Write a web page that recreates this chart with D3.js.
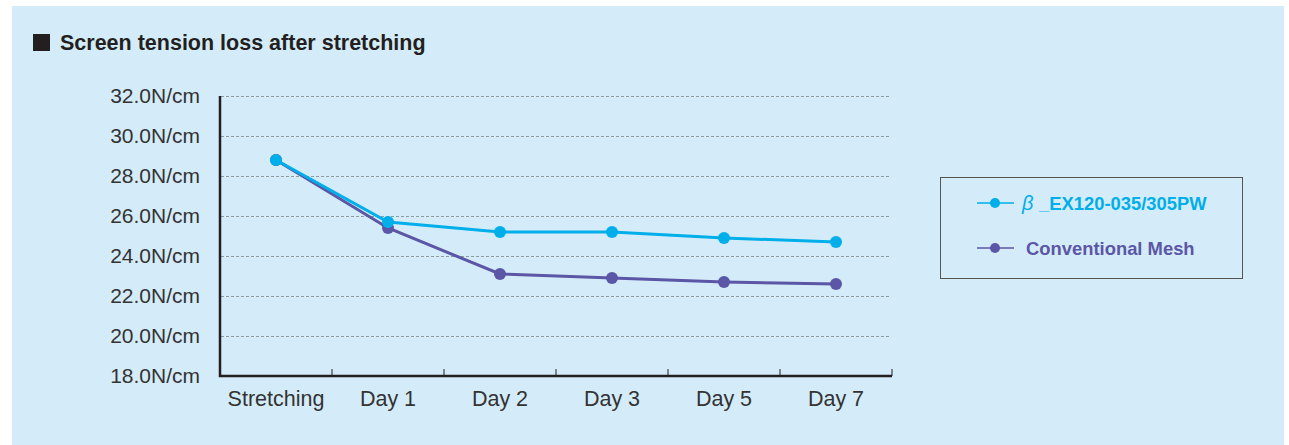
<!DOCTYPE html>
<html>
<head>
<meta charset="utf-8">
<script src="https://cdn.jsdelivr.net/npm/d3@7"></script>
<style>
  html, body { margin: 0; padding: 0; background: #ffffff; }
  svg { display: block; font-family: "Liberation Sans", Arial, sans-serif; }
</style>
</head>
<body>
<div id="chart"></div>
<script>
// Data
const categories = ["Stretching", "Day 1", "Day 2", "Day 3", "Day 5", "Day 7"];
const betaValues = [28.8, 25.7, 25.2, 25.2, 24.9, 24.7];
const conventionalValues = [28.8, 25.4, 23.1, 22.9, 22.7, 22.6];
const yTicks = [18, 20, 22, 24, 26, 28, 30, 32];
const seriesNames = ["_EX120-035/305PW", "Conventional Mesh"];

const width = 1289;
const height = 445;

const svg = d3.select("#chart")
    .append("svg")
    .attr("width", width)
    .attr("height", height);

// light blue panel
svg.append("rect")
    .attr("x", 12)
    .attr("y", 6)
    .attr("width", 1272)
    .attr("height", 439)
    .attr("fill", "#d4ecf9");

// title
svg.append("rect")
    .attr("x", 33)
    .attr("y", 34)
    .attr("width", 17)
    .attr("height", 17)
    .attr("fill", "#231f20");

svg.append("text")
    .attr("x", 60)
    .attr("y", 50)
    .attr("fill", "#231f20")
    .style("font-size", "21.5px")
    .style("font-weight", "bold")
    .text("Screen tension loss after stretching");

/*********************************************/
/*              scales                        */
/*********************************************/
const x = d3.scaleBand()
    .domain(categories)
    .range([220, 892]);

const y = d3.scaleLinear()
    .domain([18, 32])
    .range([376, 96]);

const cx = d => x(d) + x.bandwidth() / 2;

// grid lines
svg.append("g")
    .selectAll("line")
    .data(yTicks.filter(t => t > 18))
    .join("line")
        .attr("x1", 221)
        .attr("x2", 890)
        .attr("y1", d => y(d) + 0.5)
        .attr("y2", d => y(d) + 0.5)
        .attr("stroke", "#8c9aa2")
        .attr("stroke-width", 1)
        .attr("stroke-dasharray", "3,2");

// y tick labels
svg.append("g")
    .selectAll("text")
    .data(yTicks)
    .join("text")
        .attr("x", 200)
        .attr("y", d => y(d))
        .attr("dy", "0.35em")
        .attr("text-anchor", "end")
        .attr("fill", "#333333")
        .style("font-size", "21px")
        .text(d => d3.format(".1f")(d) + "N/cm");

// x axis with inward ticks
const xAxis = svg.append("g")
    .attr("transform", `translate(0, ${y(18)})`);

xAxis.selectAll("line.tick")
    .data(categories)
    .join("line")
        .attr("class", "tick")
        .attr("x1", d => x(d) + x.bandwidth())
        .attr("x2", d => x(d) + x.bandwidth())
        .attr("y1", 0)
        .attr("y2", -7)
        .attr("stroke", "#231f20")
        .attr("stroke-width", 1);

xAxis.selectAll("text")
    .data(categories)
    .join("text")
        .attr("x", d => cx(d))
        .attr("y", 30)
        .attr("text-anchor", "middle")
        .attr("fill", "#333333")
        .style("font-size", "21.5px")
        .text(d => d);

// axis lines
svg.append("path")
    .attr("d", `M${x.range()[0]},${y(32)}V${y(18)}H${x.range()[1]}`)
    .attr("fill", "none")
    .attr("stroke", "#231f20")
    .attr("stroke-width", 2.5);

/*********************************************/
/*              series                        */
/*********************************************/
const series = [
    { name: seriesNames[1], values: conventionalValues, color: "#5b56a5" },
    { name: seriesNames[0], values: betaValues, color: "#00aeea" }
];

const line = d3.line()
    .x((d, i) => cx(categories[i]))
    .y(d => y(d));

series.forEach(s => {
    const g = svg.append("g");
    g.append("path")
        .attr("d", line(s.values))
        .attr("fill", "none")
        .attr("stroke", s.color)
        .attr("stroke-width", 3);
    g.selectAll("circle")
        .data(s.values)
        .join("circle")
            .attr("cx", (d, i) => cx(categories[i]))
            .attr("cy", d => y(d))
            .attr("r", 6)
            .attr("fill", s.color);
});

/*********************************************/
/*              legend                        */
/*********************************************/
const legend = svg.append("g");

legend.append("rect")
    .attr("x", 940.5)
    .attr("y", 177.5)
    .attr("width", 302)
    .attr("height", 101)
    .attr("fill", "none")
    .attr("stroke", "#555555")
    .attr("stroke-width", 1);

const legendItems = [
    { y: 203, color: "#00aeea", beta: true, name: seriesNames[0] },
    { y: 248, color: "#5b56a5", beta: false, name: seriesNames[1] }
];

legendItems.forEach(item => {
    legend.append("line")
        .attr("x1", 977)
        .attr("x2", 1014)
        .attr("y1", item.y)
        .attr("y2", item.y)
        .attr("stroke", item.color)
        .attr("stroke-width", 1.5);
    legend.append("circle")
        .attr("cx", 995)
        .attr("cy", item.y)
        .attr("r", 5)
        .attr("fill", item.color);
    const t = legend.append("text")
        .attr("x", item.beta ? 1022 : 1026)
        .attr("y", item.y + 6.5)
        .attr("fill", item.color)
        .style("font-size", "18.4px")
        .style("font-weight", "bold");
    if (item.beta) {
        t.append("tspan")
            .style("font-style", "italic")
            .style("font-weight", "normal")
            .style("font-size", "20px")
            .text("β ");
    }
    t.append("tspan").text(item.name);
});
</script>
</body>
</html>
